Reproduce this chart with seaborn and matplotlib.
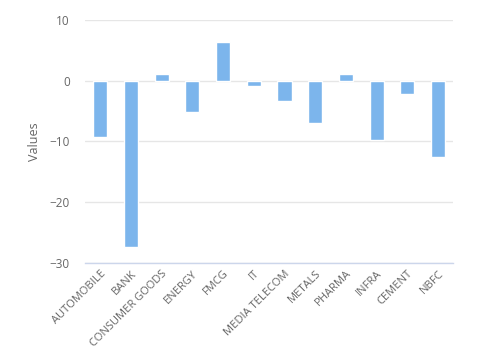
import numpy as np
import pandas as pd
import matplotlib
matplotlib.use("Agg")
import matplotlib.pyplot as plt
import seaborn as sns

# ------------------------------------------------------------------
# DATA
# ------------------------------------------------------------------

sectors = ["AUTOMOBILE", "BANK", "CONSUMER GOODS", "ENERGY", "FMCG", "IT",
           "MEDIA TELECOM", "METALS", "PHARMA", "INFRA", "CEMENT", "NBFC"]
values = [-9.2, -27.5, 1.2, -5.2, 6.4, -0.9, -3.4, -7.0, 1.2, -9.8, -2.1, -12.5]
y_ticks = [-30, -20, -10, 0, 10]

BAR_COLOR = "#7cb5ec"
TEXT_COLOR = "#666666"
GRID_COLOR = "#e6e6e6"
AXIS_COLOR = "#ccd6eb"

sns.set_style("white")
plt.rcParams["font.family"] = ["Open Sans", "DejaVu Sans"]

df = pd.DataFrame({"sector": sectors, "value": values})

fig = plt.figure(figsize=(4.88, 3.56), dpi=100)
ax = fig.add_axes([0.1742, 0.2626, 0.7547, 0.6804])

sns.barplot(data=df, x="sector", y="value", color=BAR_COLOR, saturation=1,
            width=0.46, edgecolor="white", linewidth=1, ax=ax, zorder=3)

ax.set_ylim(-30, 10)
ax.set_xlim(-0.5, len(sectors) - 0.5)
ax.set_yticks(y_ticks)
ax.yaxis.grid(True, color=GRID_COLOR, linewidth=1, zorder=0)
ax.set_axisbelow(True)

for side in ["top", "right", "left"]:
    ax.spines[side].set_visible(False)
ax.spines["bottom"].set_color(AXIS_COLOR)
ax.spines["bottom"].set_linewidth(1)

# tick marks sit between categories, labels at category centres
ax.set_xticks(np.arange(-0.5, len(sectors), 1.0), minor=True)
ax.tick_params(axis="x", which="minor", length=10, width=1, color=AXIS_COLOR)
ax.tick_params(axis="x", which="major", length=0, pad=4)
ax.set_xticklabels(sectors, rotation=45, ha="right", rotation_mode="anchor",
                   fontsize=8, color=TEXT_COLOR)
ax.tick_params(axis="y", length=0, pad=11, labelsize=8.5, labelcolor=TEXT_COLOR)

ax.set_xlabel("")
ax.set_ylabel("Values", fontsize=9, color=TEXT_COLOR)
ax.yaxis.set_label_coords(-0.12, 0.5)

fig.savefig("out.png", dpi=100)
